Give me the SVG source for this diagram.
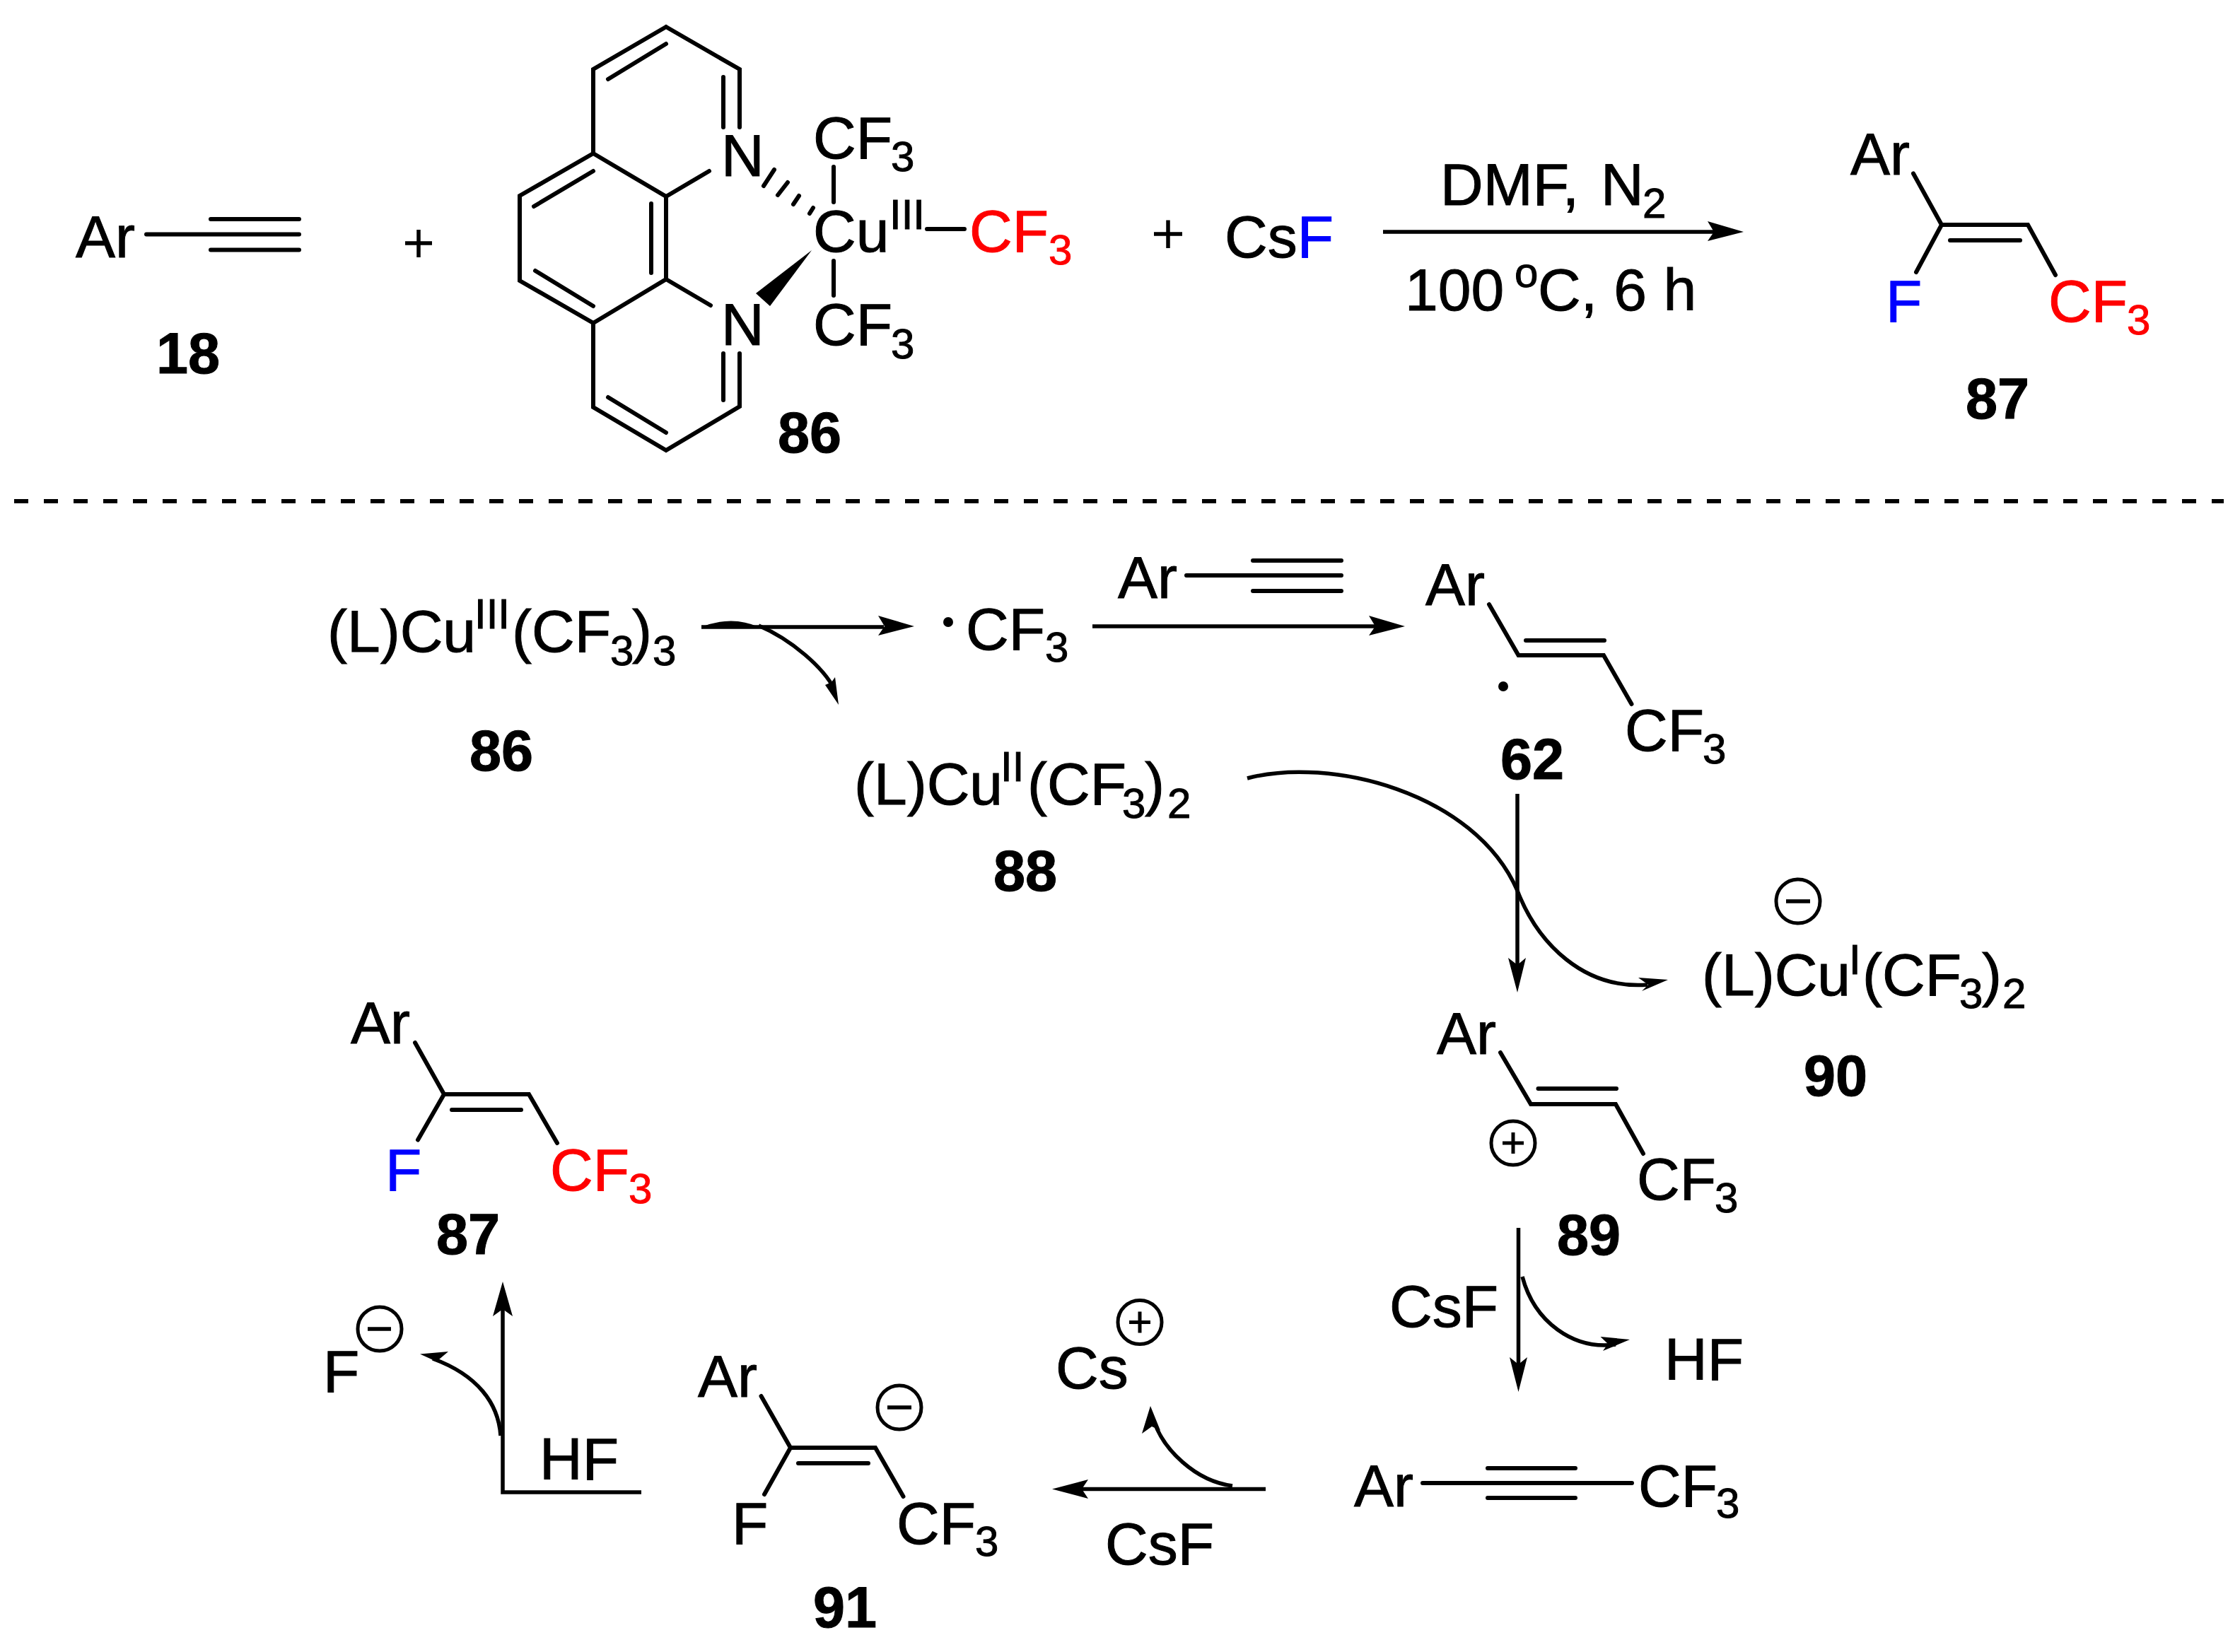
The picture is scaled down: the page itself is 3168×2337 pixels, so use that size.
<svg xmlns="http://www.w3.org/2000/svg" width="3168" height="2337" viewBox="0 0 3168 2337">
<style>
text{font-family:"Liberation Sans",Arial,sans-serif;font-size:84px;fill:#000;stroke:#000;stroke-width:1;transform:translateX(-3px)}
.s{font-size:60px}
.b{font-weight:bold;font-size:81px}
.r,.r tspan{fill:#f00;stroke:#f00}
.f{fill:#00f;stroke:#00f}
.l{stroke:#000;stroke-width:6;stroke-linecap:round;fill:none}
.t{stroke:#000;stroke-width:5.5;fill:none}
.c{stroke:#000;stroke-width:5;fill:none}
.h{fill:#000;stroke:none}
</style>
<rect width="3168" height="2337" fill="#fff"/>
<g id="n18">
<text x="110" y="364">Ar</text>
<path class="l" d="M207 331.500H423M298 310H423M298 353.500H423"/>
<text class="b" x="224" y="528">18</text>
</g>
<g id="plus1"><path class="t" d="M573 344H611M592 325V364"/></g>
<g id="n86-complex">
<path class="l" d="M942 38L839 98V217L735 277V397L839 457V576L942 637L1046 575V500M1023 500V566M860 562L942 612M839 457L942 395V278L839 217M942 38L1046 98V180M1023 109V180M860 112L942 62M755 292L839 242M921 288V386M757 383L839 433M942 278L1003 242M942 395L1005 432" stroke-linejoin="miter"/>
<text x="1023" y="249">N</text>
<text x="1023" y="488">N</text>
<text x="1153" y="224">CF<tspan class="s" x="1263" y="242">3</tspan></text>
<text x="1153" y="356">Cu<tspan class="s" x="1261" y="324">III</tspan></text>
<path class="l" d="M1179 236V286M1179 369V418M1311 324H1364"/>
<text class="r" x="1374" y="356">CF<tspan class="s" x="1486" y="374">3</tspan></text>
<text x="1153" y="488">CF<tspan class="s" x="1263" y="507">3</tspan></text>
<path class="l" d="M1095 240L1080 263M1114 258L1100 276M1130 277L1122 289M1150 294L1145 302"/>
<polygon class="h" points="1148,354 1069,415 1089,433"/>
<text class="b" x="1103" y="640">86</text>
</g>
<g id="plus2"><path class="t" d="M1632 331H1672M1652 311.500V351"/></g>
<g id="csf"><text x="1735" y="364">Cs<tspan class="f">F</tspan></text></g>
<g id="conditions">
<text x="2040" y="290">DMF,<tspan x="2267">N</tspan><tspan class="s" x="2326" y="308">2</tspan></text>
<text x="1990" y="439">100<tspan class="s" x="2145" y="406">o</tspan><tspan x="2178" y="439">C, 6 h</tspan></text>
</g>
<g id="n87-top">
<text x="2620" y="247">Ar</text>
<path class="l" d="M2706 245.500L2746 318H2868L2907 389M2746 318L2710 385M2758 340H2857"/>
<text class="f" x="2670" y="455">F</text>
<text class="r" x="2900" y="455">CF<tspan class="s" x="3011" y="473">3</tspan></text>
<text class="b" x="2783" y="592">87</text>
</g>
<g id="n86">
<text x="466" y="922">(L)Cu<tspan class="s" x="674" y="889">III</tspan><tspan x="727" y="922">(CF</tspan><tspan class="s" x="866" y="941">3</tspan><tspan x="897" y="922">)</tspan><tspan class="s" x="926" y="941">3</tspan></text>
<text class="b" x="667" y="1090">86</text>
</g>
<g id="cf3-radical">
<circle cx="1341" cy="880" r="7"/>
<text x="1369" y="919">CF<tspan class="s" x="1481" y="936">3</tspan></text>
</g>
<g id="alkyne-reagent">
<text x="1584" y="846">Ar</text>
<path class="l" d="M1678 814H1897M1772 793H1897M1772 836H1897"/>
</g>
<g id="n62">
<text x="2019" y="856">Ar</text>
<path class="l" d="M2106 855L2147.500 927H2268L2307.500 996M2158 906H2269"/>
<circle cx="2126" cy="971" r="7"/>
<text x="2301" y="1062">CF<tspan class="s" x="2411" y="1080">3</tspan></text>
<text class="b" x="2125" y="1102">62</text>
</g>
<g id="n88">
<text x="1211" y="1138">(L)Cu<tspan class="s" x="1418" y="1105">II</tspan><tspan x="1456" y="1138">(CF</tspan><tspan class="s" x="1590" y="1157">3</tspan><tspan x="1622" y="1138">)</tspan><tspan class="s" x="1654" y="1157">2</tspan></text>
<text class="b" x="1408" y="1260">88</text>
</g>
<g id="n90">
<circle class="c" cx="2543" cy="1275" r="31"/>
<path class="t" d="M2526 1275H2560"/>
<text x="2410" y="1408">(L)Cu<tspan class="s" x="2618" y="1378">I</tspan><tspan x="2637" y="1408">(CF</tspan><tspan class="s" x="2774" y="1426">3</tspan><tspan x="2806" y="1408">)</tspan><tspan class="s" x="2835" y="1426">2</tspan></text>
<text class="b" x="2554" y="1550">90</text>
</g>
<g id="n89">
<text x="2035" y="1491">Ar</text>
<path class="l" d="M2122 1489L2165 1562H2285L2324 1632M2175.500 1540H2286"/>
<circle class="c" cx="2140" cy="1617" r="31"/>
<path class="c" d="M2125 1617H2155M2140 1602V1632"/>
<text x="2318" y="1697">CF<tspan class="s" x="2428" y="1715">3</tspan></text>
<text class="b" x="2205" y="1775">89</text>
</g>
<g id="csf-2"><text x="1968" y="1877">CsF</text></g>
<g id="hf-1"><text x="2357" y="1952">HF</text></g>
<g id="alkyne-cf3">
<text x="1918" y="2131">Ar</text>
<path class="l" d="M2012 2098H2308M2104 2077H2228M2104 2119H2228"/>
<text x="2320" y="2131">CF<tspan class="s" x="2430" y="2147">3</tspan></text>
</g>
<g id="csf-3"><text x="1566" y="2213">CsF</text></g>
<g id="cs-plus">
<text x="1496" y="1964">Cs</text>
<circle class="c" cx="1612" cy="1870.500" r="31"/>
<path class="c" d="M1597 1870.500H1627M1612 1855.500V1885.500"/>
</g>
<g id="n91">
<text x="990" y="1976">Ar</text>
<path class="l" d="M1076.500 1975L1118 2048H1238L1277.500 2117M1118 2048L1081 2114M1129 2070H1228"/>
<circle class="c" cx="1272" cy="1991" r="31"/>
<path class="t" d="M1255 1991H1289"/>
<text x="1038" y="2184">F</text>
<text x="1271" y="2184">CF<tspan class="s" x="1382" y="2201">3</tspan></text>
<text class="b" x="1153" y="2302">91</text>
</g>
<g id="hf-2"><text x="766" y="2093">HF</text></g>
<g id="f-minus">
<text x="460" y="1969">F</text>
<circle class="c" cx="537" cy="1880" r="31"/>
<path class="t" d="M520 1880H553"/>
</g>
<g id="n87-bottom">
<text x="499" y="1476">Ar</text>
<path class="l" d="M587 1475L628 1548H748L788 1617M628 1548L591 1612.500M639 1570H737"/>
<text class="f" x="548" y="1684">F</text>
<text class="r" x="781" y="1684">CF<tspan class="s" x="892" y="1702">3</tspan></text>
<text class="b" x="620" y="1774">87</text>
</g>
<g id="connectors">
<path d="M20 709H3145" stroke="#000" stroke-width="6" stroke-dasharray="20 22" fill="none"/>
<path class="t" d="M1956 328H2425"/><polygon class="h" points="2466,328 2415,313 2424,328 2415,341"/>
<path class="t" d="M992 887H1250"/><polygon class="h" points="1293,886 1242,871 1251,886 1242,899"/>
<path class="h" d="M992 887Q1035 870 1073 887Z"/>
<path class="t" d="M1073 885C1120 905 1165 945 1180 975"/><polygon class="h" points="1186,997 1181,958 1176,965 1167,969"/>
<path class="t" d="M1545 886H1945"/><polygon class="h" points="1987,886 1936,871 1945,886 1936,899"/>
<path class="t" d="M1764 1101C1880 1070 2085 1120 2146 1260C2175 1335 2240 1400 2330 1393"/><polygon class="h" points="2359,1386 2317,1383 2331,1393 2322,1402"/>
<path class="t" d="M2146 1123V1370"/><polygon class="h" points="2146,1404 2133,1355 2146,1365 2158,1355"/>
<path class="t" d="M2147.500 1737V1935"/><polygon class="h" points="2147.500,1969 2135,1920 2147.500,1930 2160,1920"/>
<path class="t" d="M2153 1806C2170 1870 2225 1910 2285 1902"/><polygon class="h" points="2305,1895 2263.500,1891 2274,1901 2267,1911"/>
<path class="t" d="M1790 2106.500H1525"/><polygon class="h" points="1488,2106.500 1539,2093 1530,2106.500 1539,2120"/>
<path class="t" d="M1743 2102C1690 2095 1645 2050 1632 2010"/><polygon class="h" points="1627,1989 1615,2028 1629,2018 1641,2023.500"/>
<path class="t" d="M907 2111H711V1850"/><polygon class="h" points="711,1813 697,1862 711,1852 725,1862"/>
<path class="t" d="M708 2031C705 1985 675 1945 612 1922"/><polygon class="h" points="594,1915.600 634,1912 621,1923 632.500,1933"/>
</g>
</svg>
